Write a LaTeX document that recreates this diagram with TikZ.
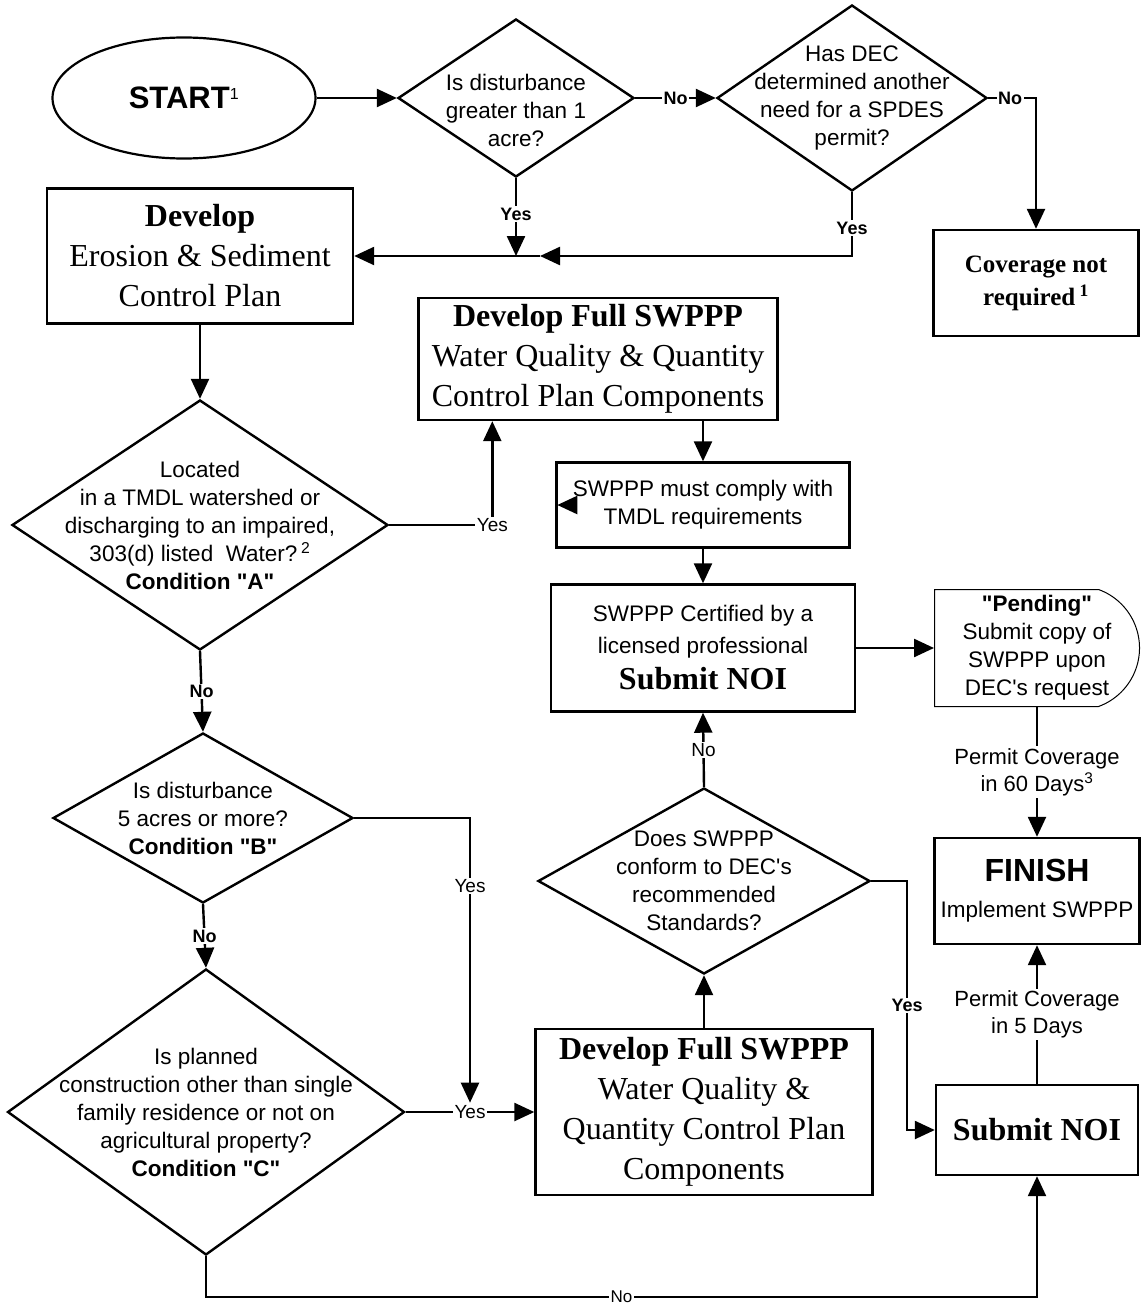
\documentclass[tikz,border=0pt]{standalone}
\usepackage{fontspec}
\setmainfont{Liberation Serif}
\setsansfont{Liberation Sans}
\usetikzlibrary{shapes.geometric,shapes.misc,arrows.meta}
\newcommand{\qd}{\textquotedbl}
\newcommand{\ap}{\textquotesingle}

\begin{document}
\begin{tikzpicture}[x=1pt, y=-1pt,
        flow/.style={line width=2.4pt, -{Triangle[length=20pt,width=18pt]}},
        proc/.style={draw, line width=2.4pt, rectangle, inner sep=0pt, align=center, font=\rmfamily\fontsize{32}{40}\selectfont},
        cond/.style={draw, line width=2.4pt, diamond, inner sep=0pt},
        qtxt/.style={align=center, font=\sffamily\fontsize{22.5}{28}\selectfont},
        lab/.style={fill=white, inner sep=1.5pt, font=\sffamily\fontsize{19}{20}\selectfont},
        labb/.style={fill=white, inner sep=1.5pt, font=\sffamily\bfseries\fontsize{18}{20}\selectfont},
        permit/.style={fill=white, inner sep=2pt, align=center, font=\sffamily\fontsize{22}{27}\selectfont}]
                \useasboundingbox (0,0) rectangle (1141,1306);

                % Inicio
                \node[draw, ellipse, line width=2.2pt, minimum width=263, minimum height=121, inner sep=0pt, font=\sffamily\bfseries\fontsize{31}{36}\selectfont] (start) at (184,98) {START\textsuperscript{\fontsize{16}{16}\selectfont\mdseries 1}};

                % Primeras preguntas
                \node[cond, minimum width=236, minimum height=158] (d1) at (516,98) {};
                \node[qtxt] (d1t) at ([yshift=-12pt]d1) {Is disturbance\\greater than 1\\acre?};
                \node[cond, minimum width=270, minimum height=186] (d2) at (852,98) {};
                \node[qtxt] (d2t) at (d2) {Has DEC\\determined another\\need for a SPDES\\permit?};
                \node[proc, minimum width=205, minimum height=106, font=\rmfamily\bfseries\fontsize{25}{33}\selectfont] (cov) at (1036,283) {Coverage not\\required\,\textsuperscript{1}};

                % Columna izquierda
                \node[proc, minimum width=306, minimum height=135] (es) at (200,256) {\textbf{Develop}\\Erosion \& Sediment\\Control Plan};
                \node[cond, minimum width=376, minimum height=250] (dA) at (200,525) {};
                \node[qtxt] (dAt) at (dA) {Located\\in a TMDL watershed or\\discharging to an impaired,\\303(d) listed\ \ Water?\,\textsuperscript{2}\\\textbf{Condition \qd A\qd}};
                \node[cond, minimum width=300, minimum height=170] (dB) at (203,818) {};
                \node[qtxt] (dBt) at (dB) {Is disturbance\\5 acres or more?\\\textbf{Condition \qd B\qd}};
                \node[cond, minimum width=397, minimum height=286] (dC) at (206,1112) {};
                \node[qtxt] (dCt) at (dC) {Is planned\\construction other than single\\family residence or not on\\agricultural property?\\\textbf{Condition \qd C\qd}};

                % Columna central
                \node[proc, minimum width=359, minimum height=122] (b1) at (598,359) {\textbf{Develop Full SWPPP}\\Water Quality \& Quantity\\Control Plan Components};
                \node[proc, minimum width=293, minimum height=85, font=\sffamily\fontsize{22.5}{28}\selectfont] (tm) at (703,505) {SWPPP must comply with\\TMDL requirements};
                \node[proc, minimum width=304, minimum height=127, font=\sffamily\fontsize{22.5}{32}\selectfont] (noi) at (703,648) {SWPPP Certified by a\\licensed professional\\[4pt]{\rmfamily\bfseries\fontsize{32}{36}\selectfont Submit NOI}};
                \node[cond, minimum width=332, minimum height=186] (dD) at (704,881) {};
                \node[qtxt] (dDt) at (dD) {Does SWPPP\\conform to DEC\ap s\\recommended\\Standards?};
                \node[proc, minimum width=337, minimum height=166] (b2) at (704,1112) {\textbf{Develop Full SWPPP}\\Water Quality \&\\Quantity Control Plan\\Components};

                % Columna derecha
                \node[draw, line width=1pt, rounded rectangle, rounded rectangle west arc=none, rounded rectangle arc length=140, minimum width=205, minimum height=117, inner sep=0pt] (pend) at (1037,648) {};
                \node[qtxt] (pendt) at (pend.center) {\textbf{\qd Pending\qd}\\Submit copy of\\SWPPP upon\\DEC\ap s request};
                \node[proc, minimum width=205, minimum height=106, font=\sffamily\fontsize{22.5}{36}\selectfont] (fin) at (1037,891) {{\bfseries\fontsize{32}{36}\selectfont FINISH}\\Implement SWPPP};
                \node[proc, minimum width=202, minimum height=90, font=\rmfamily\bfseries\fontsize{32}{40}\selectfont] (noi2) at (1037,1130) {Submit NOI};

                % Flechas de arriba
                \draw[flow] (start.east) -- (d1.west);
                \draw[flow] (d1.east) -- (d2.west) node[midway, labb] {No};
                \draw[flow] (d2.east) -| (cov.north) node[pos=0.23, labb] {No};
                \draw[flow] (d1.south) -- (d1.south |- es.east) node[pos=0.46, labb] {Yes};
                \coordinate (j2) at (540,256);
                \draw[flow] (d2.south) |- (j2) node[pos=0.28, labb] {Yes};
                \draw[flow] (j2) -- (es.east);

                % Flechas de la izquierda
                \draw[flow] (es.south) -- (dA.north);
                \draw[flow] (dA.east) -| ([xshift=75pt]b1.south west) node[pos=0.5, lab] {Yes};
                \draw[flow] (dA.south) -- (dB.north) node[midway, labb] {No};
                \draw[flow] (dB.south) -- (dC.north) node[midway, labb] {No};
                \draw[flow] (dC.east) -- (b2.west) node[midway, lab] (yC) {Yes};
                \draw[flow] (dB.east) -| (yC.north) node[pos=0.62, lab] {Yes};
                \draw[flow] (dC.south) -- ++(0,41) -| (noi2.south) node[pos=0.25, lab, font=\sffamily\fontsize{17}{18}\selectfont] {No};

                % Flechas del centro
                \draw[flow] (b1.south -| tm.north) -- (tm.north);
                \draw[flow] ([xshift=21pt]tm.west) -- ([xshift=2pt]tm.west);
                \draw[flow] (tm.south) -- (noi.north);
                \draw[flow] (noi.east) -- (pend.west);
                \draw[flow] (b2.north) -- (dD.south);
                \draw[flow] (dD.north) -- (noi.south) node[midway, lab] {No};
                \draw[flow] (dD.east) -- ++(36,0) |- (noi2.west) node[pos=0.25, labb] {Yes};

                % Cobertura
                \draw[flow] (fin.north |- pend.south) -- (fin.north) node[midway, permit] {Permit Coverage\\in 60 Days\textsuperscript{3}};
                \draw[flow] (noi2.north) -- (fin.south) node[midway, permit] {Permit Coverage\\in 5 Days};
            \end{tikzpicture}
\end{document}
